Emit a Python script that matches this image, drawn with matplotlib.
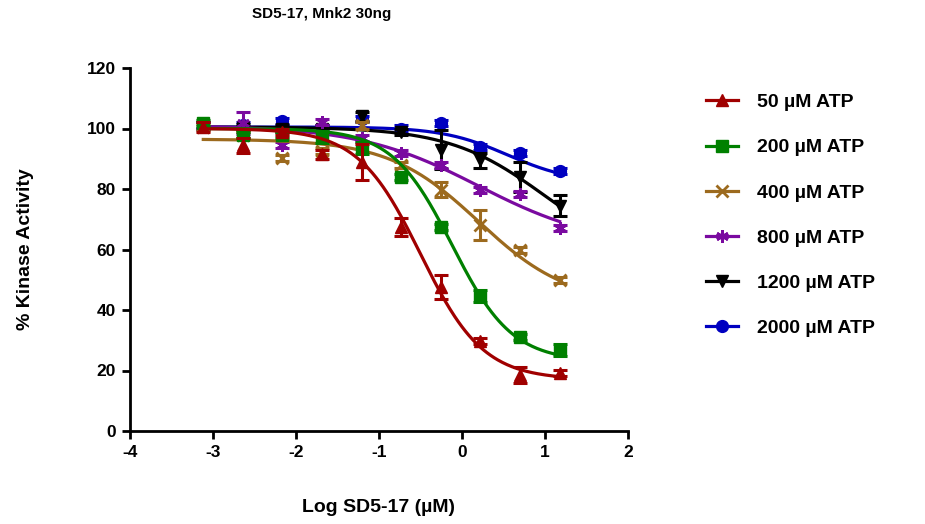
import matplotlib.pyplot as plt
import numpy as np

plt.rcParams['font.family'] = ['Liberation Sans', 'DejaVu Sans']
plt.rcParams['font.weight'] = 'bold'
plt.rcParams['axes.unicode_minus'] = False

# log concentration (uM)
log_conc = [-3.117, -2.640, -2.163, -1.686, -1.209, -0.732, -0.255, 0.222, 0.699, 1.176]

labels = ["50 µM ATP", "200 µM ATP", "400 µM ATP", "800 µM ATP", "1200 µM ATP", "2000 µM ATP"]
colors = ["#a00000", "#008000", "#9c6a1e", "#7a0aa0", "#000000", "#0000c0"]
markers = ["^", "s", "x", (6, 2, 0), "v", "o"]

atp50 = [100.5, 94.5, 99.0, 91.5, 89.0, 67.5, 47.5, 29.8, 18.5, 19.3]
atp200 = [101.8, 97.8, 98.0, 97.2, 93.5, 84.0, 67.4, 44.5, 31.2, 26.8]
atp400 = [100.5, 98.0, 90.2, 92.5, 101.0, 88.0, 79.7, 68.0, 59.8, 49.8]
atp800 = [101.0, 101.8, 94.5, 102.0, 97.0, 92.0, 88.0, 79.8, 78.5, 67.0]
atp1200 = [101.0, 100.5, 100.0, 100.0, 104.0, 99.0, 93.0, 89.5, 84.0, 74.5]
atp2000 = [101.2, 101.0, 102.5, 100.3, 103.0, 100.0, 101.8, 93.8, 91.8, 86.0]

err50 = [1.5, 2.5, 1.0, 1.5, 6.0, 3.0, 4.0, 1.0, 2.5, 1.0]
err200 = [1.0, 1.0, 1.0, 2.0, 2.0, 1.0, 1.0, 2.0, 1.0, 2.0]
err400 = [1.0, 1.0, 1.0, 1.0, 1.0, 1.0, 2.5, 5.0, 1.0, 1.0]
err800 = [1.0, 3.7, 1.0, 1.0, 1.0, 1.0, 1.0, 1.0, 1.0, 1.0]
err1200 = [1.0, 1.0, 1.0, 1.0, 1.5, 1.0, 6.5, 2.5, 5.0, 3.5]
err2000 = [1.0, 1.0, 1.0, 1.0, 1.0, 1.0, 1.0, 1.0, 1.0, 1.0]

# four-parameter logistic fits: top, bottom, logIC50, hill
fit_top = [100.0, 100.0, 96.5, 101.0, 100.5, 100.5]
fit_bottom = [17.0, 23.0, 42.0, 61.0, 55.0, 82.0]
fit_logic50 = [-0.5, -0.12, 0.2, 0.2, 1.0, 0.55]
fit_hill = [1.15, 1.2, 0.8, 0.6, 0.75, 1.1]

values = [atp50, atp200, atp400, atp800, atp1200, atp2000]
errors = [err50, err200, err400, err800, err1200, err2000]

fig = plt.figure(figsize=(9.25, 5.24), dpi=100)
ax = fig.add_axes([130 / 925, 1 - 431 / 524, 498 / 925, 363 / 524])

xfit = np.linspace(log_conc[0], log_conc[-1], 300)
handles = []
for i in range(len(values)):
    z = 10 - i
    thin = markers[i] in ("x", (6, 2, 0))
    yfit = fit_bottom[i] + (fit_top[i] - fit_bottom[i]) / (1 + 10 ** ((xfit - fit_logic50[i]) * fit_hill[i]))
    ax.plot(xfit, yfit, color=colors[i], lw=2.3, zorder=z)
    ax.errorbar(log_conc, values[i], yerr=errors[i], fmt='none', ecolor=colors[i],
                elinewidth=2.2, capsize=5, capthick=2.2, zorder=z)
    ms = 9 if thin else 8.5
    ax.plot(log_conc, values[i], ls='none', marker=markers[i], color=colors[i],
            ms=ms, mew=2 if thin else 1, zorder=z)
    h, = ax.plot([], [], color=colors[i], lw=2.3, marker=markers[i], ms=ms,
                 mew=2 if thin else 1)
    handles.append(h)

ax.set_xlim(-4, 2)
ax.set_ylim(0, 120)
ax.set_xticks(range(-4, 3))
ax.set_yticks(range(0, 121, 20))
for s in ['top', 'right']:
    ax.spines[s].set_visible(False)
for s in ['left', 'bottom']:
    ax.spines[s].set_linewidth(2)
ax.tick_params(width=2, length=6, labelsize=12.5, pad=4)
for lab in ax.get_xticklabels() + ax.get_yticklabels():
    lab.set_fontweight('bold')

ax.set_xlabel("Log SD5-17 (µM)", fontsize=14, fontweight='bold', labelpad=28)
ax.set_ylabel("% Kinase Activity", fontsize=14, fontweight='bold', labelpad=38)
fig.text(322 / 925, 1 - 14 / 524, "SD5-17, Mnk2 30ng", fontsize=11, fontweight='bold',
         ha='center', va='center')

fig.legend(handles, labels, loc='upper left', bbox_to_anchor=(688 / 925, 1 - 76 / 524),
           frameon=False, handlelength=1.65, handletextpad=1.0,
           labelspacing=1.42, prop={'weight': 'bold', 'size': 14})

fig.savefig("out.png", dpi=100)
